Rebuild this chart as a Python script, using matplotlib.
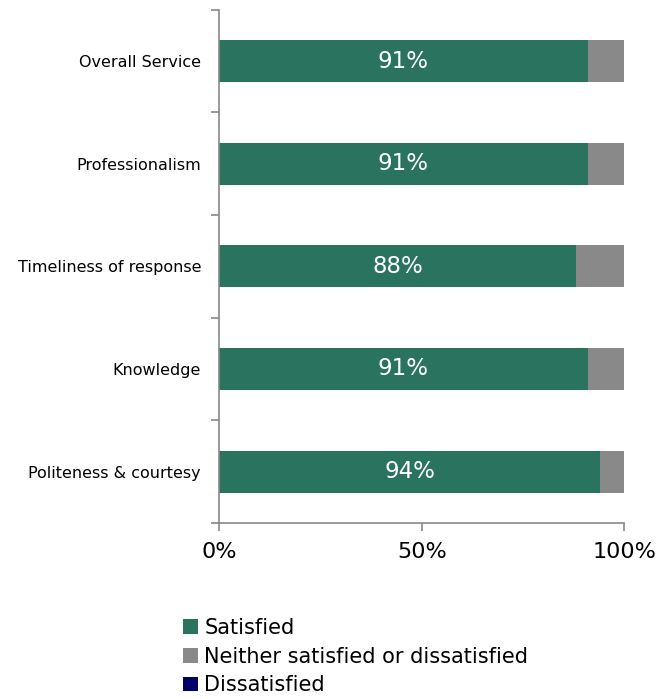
import numpy as np
import matplotlib.pyplot as plt

kategorie = ['Overall Service', 'Professionalism', 'Timeliness of response',
             'Knowledge', 'Politeness & courtesy']
zadowoleni = [91, 91, 88, 91, 94]
obojetni = [9, 9, 12, 9, 6]
niezadowoleni = [0, 0, 0, 0, 0]
etykiety_x = ['0%', '50%', '100%']

plt.rcParams['font.family'] = ['DejaVu Sans']

fig = plt.figure(figsize=(6.62, 6.99), dpi=100)
ax = fig.add_axes([0.331, 0.252, 0.612, 0.734])

y = np.arange(len(kategorie))[::-1]
zad = np.array(zadowoleni)
obo = np.array(obojetni)
nie = np.array(niezadowoleni)

h = 0.41
ax.barh(y, zad, height=h, color='#2a735e', label='Satisfied')
ax.barh(y, obo, height=h, left=zad, color='#898989',
        label='Neither satisfied or dissatisfied')
ax.barh(y, nie, height=h, left=zad + obo, color='#000066',
        label='Dissatisfied')

for yi, v in zip(y, zad):
    ax.text(v / 2, yi, f'{v}%', ha='center', va='center', color='white',
            fontsize=16.5)

ax.set_xlim(0, 100)
ax.set_ylim(-0.5, len(kategorie) - 0.5)
ax.set_xticks([0, 50, 100])
ax.set_xticklabels(etykiety_x, fontsize=16)

ax.set_yticks(np.arange(-0.5, len(kategorie), 1))
ax.set_yticklabels([])
ax.set_yticks(y, minor=True)
ax.set_yticklabels(kategorie, minor=True, fontsize=11.5)
ax.tick_params(axis='y', which='minor', length=0, pad=13)
ax.tick_params(axis='y', which='major', length=6, color='#888888', width=1.2)
ax.tick_params(axis='x', length=6, color='#888888', width=1.2, pad=8)

for s in ['top', 'right']:
    ax.spines[s].set_visible(False)
for s in ['left', 'bottom']:
    ax.spines[s].set_color('#888888')
    ax.spines[s].set_linewidth(1.2)

fig.legend(loc='upper left', bbox_to_anchor=(0.277, 0.116), frameon=False,
           fontsize=15, handlelength=0.7, handleheight=0.7, handletextpad=0.3,
           labelspacing=0.42, borderpad=0, borderaxespad=0)

plt.savefig('out.png', dpi=100)
